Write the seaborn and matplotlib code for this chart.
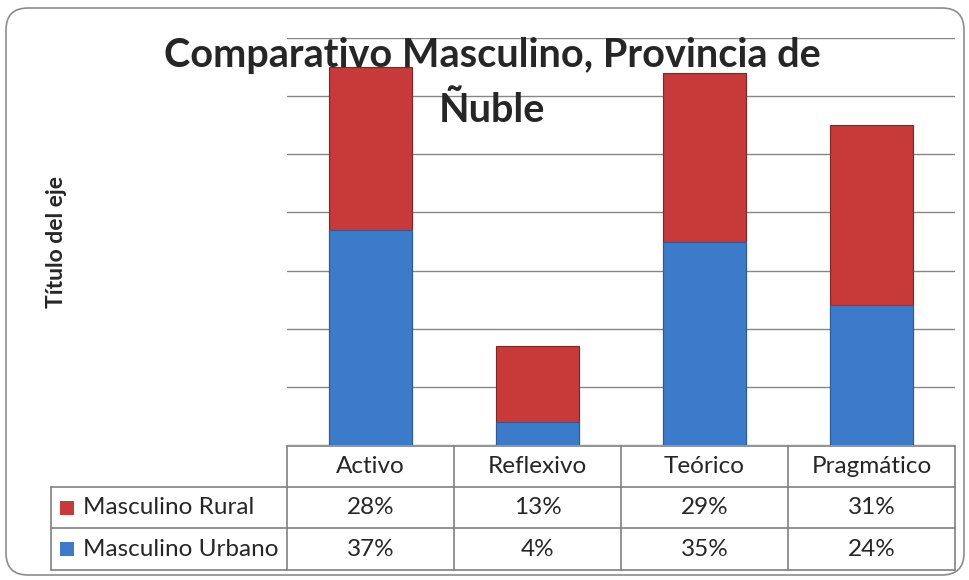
import numpy as np
import pandas as pd
import matplotlib
matplotlib.use("Agg")
import matplotlib.pyplot as plt
from matplotlib.patches import FancyBboxPatch, Rectangle
import seaborn as sns

sns.set_style("white")
plt.rcParams['font.family'] = ['Lato', 'DejaVu Sans']

# data
categorias = ['Activo', 'Reflexivo', 'Teórico', 'Pragmático']
rural = [0.28, 0.13, 0.29, 0.31]
urbano = [0.37, 0.04, 0.35, 0.24]
series = ['Masculino Rural', 'Masculino Urbano']

col_rural = '#C8393A'
col_urbano = '#3C7BC9'

W, H = 970, 580
fig = plt.figure(figsize=(W / 100, H / 100), dpi=100)

# rounded outer border (drawn in pixel space)
frame = fig.add_axes([0, 0, 1, 1], facecolor='none', zorder=-5)
frame.set_xlim(0, W)
frame.set_ylim(H, 0)
frame.axis('off')
frame.add_patch(FancyBboxPatch((6, 8), 958, 567,
                               boxstyle="round,pad=0,rounding_size=22",
                               fill=False, edgecolor='#8c8c8c', linewidth=1.2))

# plot area
x0, x1 = 287, 955
ytop, ybot = 38, 445
ax = fig.add_axes([x0 / W, (H - ybot) / H, (x1 - x0) / W, (ybot - ytop) / H])

df = pd.DataFrame({'cat': categorias, 'rural': rural, 'urbano': urbano})
df['total'] = df['rural'] + df['urbano']

sns.barplot(data=df, x='cat', y='total', color=col_rural, saturation=1,
            width=0.5, edgecolor='#8a2222', linewidth=0.8, ax=ax, zorder=2)
sns.barplot(data=df, x='cat', y='urbano', color=col_urbano, saturation=1,
            width=0.5, edgecolor='#2a5a99', linewidth=0.8, ax=ax, zorder=3)

ax.set_ylim(0, 0.70)
ax.set_xlim(-0.5, 3.5)
ax.set_yticks(np.arange(0, 0.71, 0.1))
ax.yaxis.grid(True, color='#868686', linewidth=1.0)
ax.set_axisbelow(True)
ax.set_xticks([])
ax.set_yticklabels([])
ax.tick_params(left=False, bottom=False)
ax.set_xlabel('')
ax.set_ylabel('')
for s in ax.spines.values():
    s.set_visible(False)

# title and axis title
fig.text(492 / W, 1 - 56 / H, 'Comparativo Masculino, Provincia de',
         ha='center', va='center', fontsize=28.5, fontweight='bold', zorder=10)
fig.text(492 / W, 1 - 110 / H, 'Ñuble',
         ha='center', va='center', fontsize=28.5, fontweight='bold', zorder=10)
fig.text(57 / W, 1 - 242 / H, 'Título del eje', rotation=90,
         ha='center', va='center', fontsize=16.5, fontweight='bold')

# data table
tab = fig.add_axes([0, 0, 1, 1], facecolor='none')
tab.set_xlim(0, W)
tab.set_ylim(H, 0)
tab.axis('off')
lc = '#808080'
rows_y = [446, 487, 528, 570]
col_x = np.linspace(x0, x1, len(categorias) + 1)
leg_x = 51
tab.plot([x0, x1], [rows_y[0]] * 2, color=lc, lw=1.2)
for yy in rows_y[1:]:
    tab.plot([leg_x, x1], [yy] * 2, color=lc, lw=1.2)
tab.plot([leg_x, leg_x], [rows_y[1], rows_y[3]], color=lc, lw=1.2)
for xx in col_x:
    tab.plot([xx, xx], [rows_y[0], rows_y[3]], color=lc, lw=1.2)

fs = 17.5
for i, c in enumerate(categorias):
    xc = (col_x[i] + col_x[i + 1]) / 2
    tab.text(xc, (rows_y[0] + rows_y[1]) / 2, c, ha='center', va='center', fontsize=fs)
    tab.text(xc, (rows_y[1] + rows_y[2]) / 2, f'{round(rural[i] * 100)}%',
             ha='center', va='center', fontsize=fs)
    tab.text(xc, (rows_y[2] + rows_y[3]) / 2, f'{round(urbano[i] * 100)}%',
             ha='center', va='center', fontsize=fs)

for r, (name, col) in enumerate(zip(series, [col_rural, col_urbano])):
    yc = (rows_y[r + 1] + rows_y[r + 2]) / 2
    tab.add_patch(Rectangle((60, yc - 7), 14, 14, facecolor=col, edgecolor='none'))
    tab.text(83, yc, name, ha='left', va='center', fontsize=fs)

fig.savefig('out.png', dpi=100)
